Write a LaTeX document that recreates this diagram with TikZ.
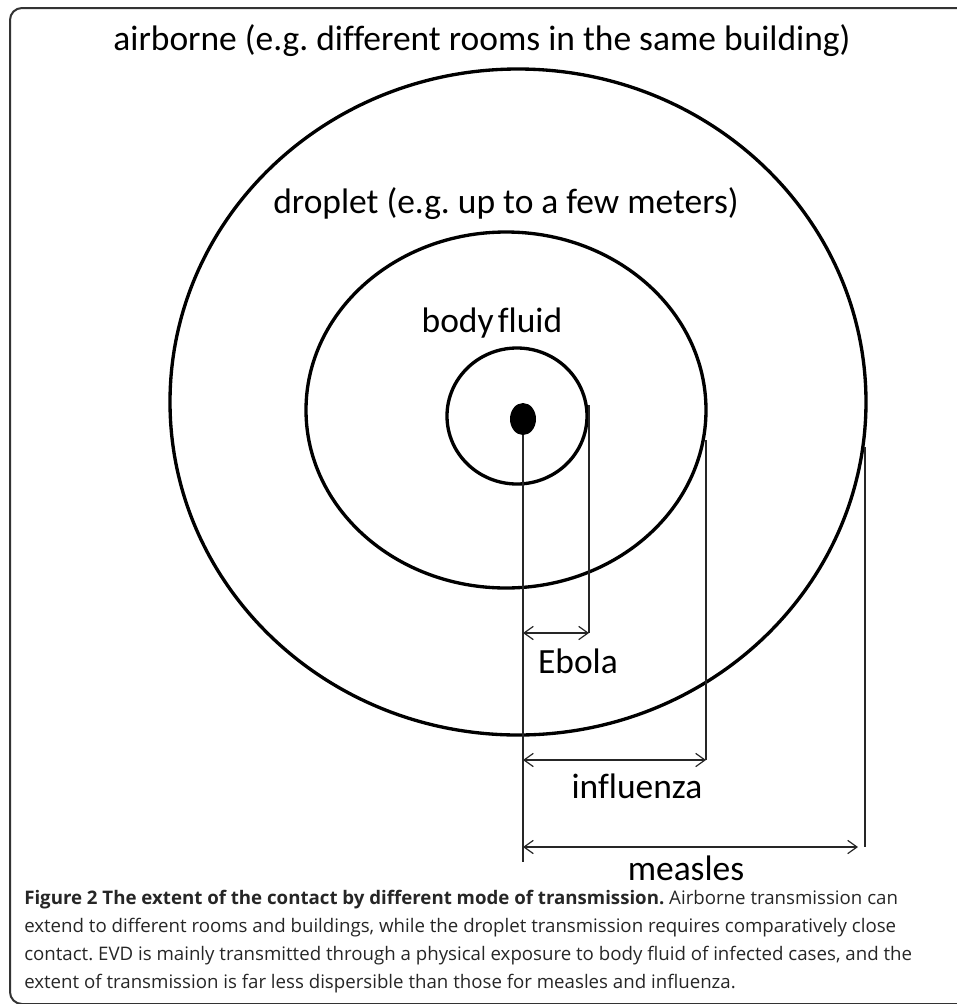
\documentclass[tikz,border=0pt]{standalone}
\usepackage{fontspec}
\setmainfont{Carlito}[Ligatures=CommonOff]
\newfontfamily\capfont{Open Sans}
\usetikzlibrary{arrows.meta, shapes.geometric, positioning}
\tikzstyle{ring}=[line width=2.5pt]
\tikzstyle{dimline}=[line width=0.9pt, black!85]
\tikzstyle{dimarrow}=[dimline, {Straight Barb[length=7pt,width=10pt]}-{Straight Barb[length=7pt,width=10pt]}]
\tikzstyle{zonelabel}=[anchor=base, inner sep=0pt, font=\fontsize{26.6}{30}\selectfont]
\newcommand{\zone}{\node[zonelabel]}
\frenchspacing

\begin{document}
\begin{tikzpicture}[x=0.75pt, y=-0.75pt]
                    \useasboundingbox (0,0) rectangle (957,1004);
                    \draw[line width=1.5pt, black!80, rounded corners=9pt]
                        (990,8) -- (10,8) -- (10,1004) -- (990,1004);
                    % zones
                    \draw[ring] (518,402) ellipse (348 and 333);
                    \draw[ring] (506,410) ellipse (200 and 178);
                    \draw[ring] (517,416) ellipse (70 and 68);
                    \node (source) at (523,419) [ellipse, fill, inner sep=0pt, minimum width=19.5pt, minimum height=24pt] {};
                    \zone (airborne) at (482,50) {airborne (e.g. different rooms in the same building)};
                    \zone (droplet) at (506,213) {droplet (e.g. up to a few meters)};
                    \zone (bodyfluid) at (492,332) {body\hspace{0.12em}fluid};
                    % dimension lines
                    \coordinate (axis) at (523,862);
                    \coordinate (ebtop) at (589,405);
                    \coordinate (ebend) at (589,633);
                    \coordinate (ebstart) at (523,633);
                    \coordinate (intop) at (706,440);
                    \coordinate (inend) at (706,760);
                    \coordinate (instart) at (523,760);
                    \coordinate (metop) at (865,447);
                    \coordinate (mebot) at (865,847);
                    \coordinate (meend) at (858,847);
                    \coordinate (mestart) at (523,847);
                    \path[dimline]
                        (source.south) edge (axis)
                        (ebtop) edge (ebend)
                        (intop) edge (inend)
                        (metop) edge (mebot)
                    ;
                    \draw[dimarrow] (ebstart) -- (ebend);
                    \draw[dimarrow] (instart) -- (inend);
                    \draw[dimarrow] (mestart) -- (meend);
                    \zone (ebola) at (578,673) {Ebola};
                    \zone (influenza) at (637,798) {influenza};
                    \zone (measles) at (686,880) {measles};
                    % caption
                    \node (caption) at (24,988) [anchor=base west, align=left, inner sep=0pt, text=black!85,
                        font=\capfont\fontsize{14}{20.8}\selectfont]
                        {\textbf{Figure 2 The extent of the contact by different mode of transmission.} Airborne transmission can\\
                        extend to different rooms and buildings, while the droplet transmission requires comparatively close\\
                        contact. EVD is mainly transmitted through a physical exposure to body fluid of infected cases, and the\\
                        extent of transmission is far less dispersible than those for measles and influenza.};
                \end{tikzpicture}
\end{document}
